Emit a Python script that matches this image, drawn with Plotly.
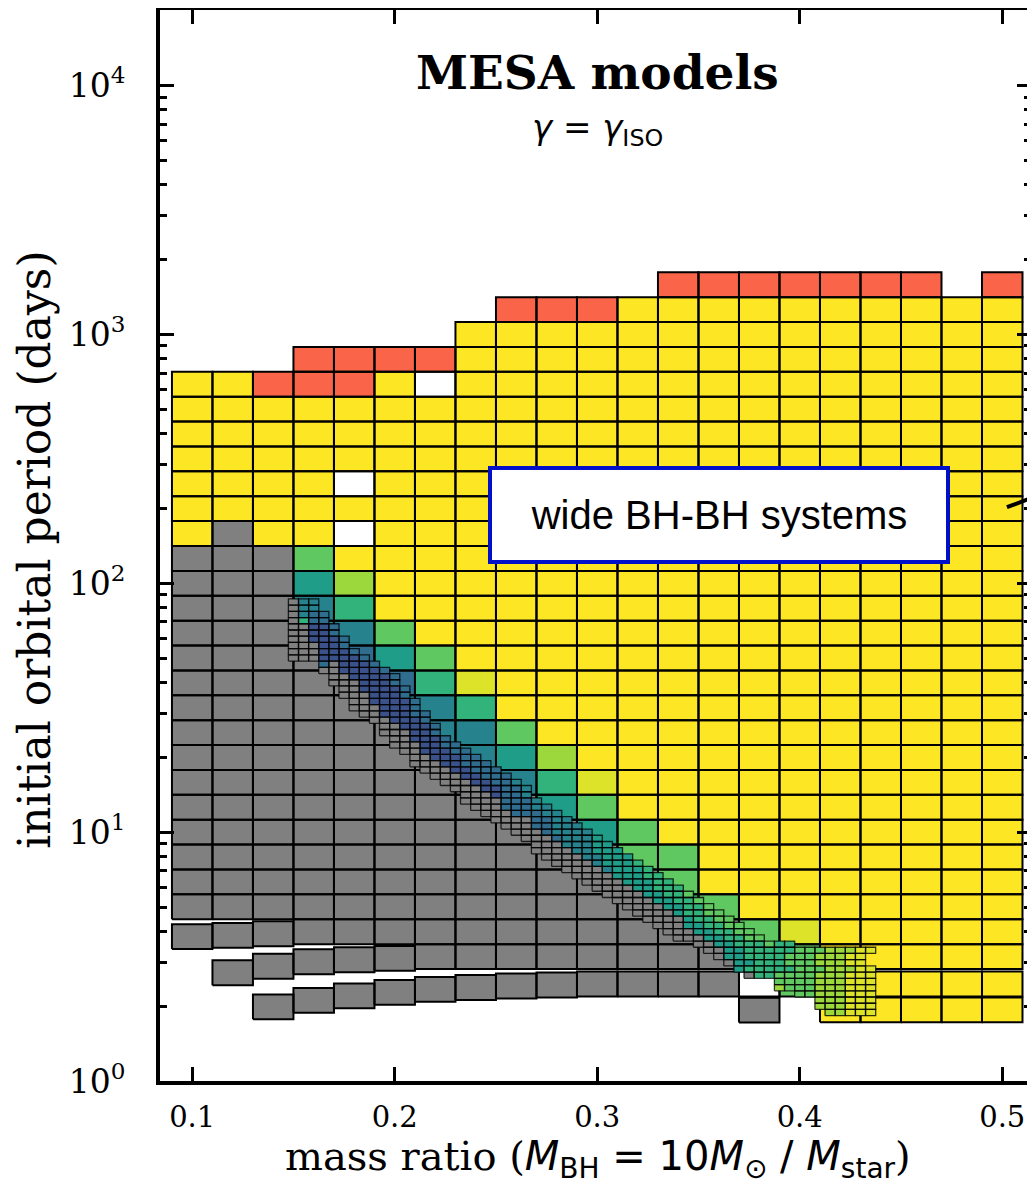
import plotly.graph_objects as go
from plotly.colors import sample_colorscale

# ---------------- data ----------------
Q_COLS = [0.10, 0.12, 0.14, 0.16, 0.18, 0.20, 0.22, 0.24, 0.26, 0.28, 0.30,
          0.32, 0.34, 0.36, 0.38, 0.40, 0.42, 0.44, 0.46, 0.48, 0.50]
LOGP_ROWS = [3.2, 3.1, 3.0, 2.9, 2.8, 2.7, 2.6, 2.5, 2.4, 2.3, 2.2, 2.1, 2.0, 1.9,
             1.8, 1.7, 1.6, 1.5, 1.4, 1.3, 1.2, 1.1, 1.0, 0.9, 0.8, 0.7, 0.6, 0.5]
# state per (row, column): R=red, Y=yellow(top of colour scale), K=grey, W=white,
# digit d = viridis value (d+0.5)/10, '.' = no model
COARSE_STATES = [
    "............RRRRRRR.R",
    "........RRRYYYYYYYYYY",
    ".......YYYYYYYYYYYYYY",
    "...RRRRYYYYYYYYYYYYYY",
    "YYRRRYWYYYYYYYYYYYYYY",
    "YYYYYYYYYYYYYYYYYYYYY",
    "YYYYYYYYYYYYYYYYYYYYY",
    "YYYYYYYYYYYYYYYYYYYYY",
    "YYYYWYYYYYYYYYYYYYYYY",
    "YYYYYYYYYYYYYYYYYYYYY",
    "YKYYWYYYYYYYYYYYYYYYY",
    "KKK7YYYYYYYYYYYYYYYYY",
    "KKK58YYYYYYYYYYYYYYYY",
    "KKK46YYYYYYYYYYYYYYYY",
    "KKK447YYYYYYYYYYYYYYY",
    "KKKK357YYYYYYYYYYYYYY",
    "KKKKK369YYYYYYYYYYYYY",
    "KKKKK446YYYYYYYYYYYYY",
    "KKKKKK447YYYYYYYYYYYY",
    "KKKKKKK458YYYYYYYYYYY",
    "KKKKKKKK469YYYYYYYYYY",
    "KKKKKKKKK57YYYYYYYYYY",
    "KKKKKKKKKK57YYYYYYYYY",
    "KKKKKKKKKKK77YYYYYYYY",
    "KKKKKKKKKKKK7YYYYYYYY",
    "KKKKKKKKKKKK67YYYYYYY",
    "...KKKKKKKKKKK79YYYYY",
    "......KKKKKKKK77YYYYY",
]
# shortest-period models (off the regular grid)
EXTRA_Q = [0.10, 0.12, 0.12, 0.14, 0.14, 0.14, 0.16, 0.16, 0.18, 0.18, 0.20, 0.20,
           0.22, 0.24, 0.26, 0.28, 0.30, 0.32, 0.34, 0.36, 0.38, 0.38, 0.40,
           0.42, 0.44, 0.46, 0.48, 0.50, 0.42, 0.44, 0.46, 0.48, 0.50]
EXTRA_LOGP = [0.58, 0.585, 0.435, 0.592, 0.461, 0.298, 0.479, 0.324, 0.487, 0.342, 0.493, 0.356,
              0.368, 0.376, 0.382, 0.386, 0.39, 0.39, 0.39, 0.39, 0.39, 0.285, 0.39,
              0.39, 0.39, 0.39, 0.39, 0.39, 0.286, 0.286, 0.286, 0.286, 0.286]
EXTRA_STATE = "KKKKKKKKKKKKKKKKKKKKWK7YYYYYYYYYY"

# refined grid (q step 0.005, log P step 0.025)
FINE_Q0 = 0.15
FINE_DQ = 0.005
FINE_LOGP0 = 1.925
FINE_DLOGP = 0.025
FINE_START = [0, 0, 0, 0, 0, 0, 0, 0, 0, 0,
              3, 3, 4, 4, 5, 5, 6, 6, 7, 8,
              9, 9, 10, 10, 11, 12, 12, 13, 14, 15,
              16, 17, 17, 18, 19, 20, 21, 22, 23, 24,
              24, 25, 26, 27, 28, 29, 30, 31, 32, 33,
              34, 35, 36, 37, 38, 40, 41, 42, 43, 44,
              45, 48, 48, 50, 52, 52, 53]
FINE_STATES = [
    "K44", "K44", "K433", "K633", "KK223", "KK223", "KK2223", "KKK223", "KKK2223", "KKK22223",
    "3K2223", "KK22223", "KK22223", "KKK2223", "KK22223", "KKK2223", "KK22223", "KKK2223", "KK22233", "KK2223",
    "KK2223", "KKK223", "KK2223", "KKK2233", "KK22233", "KK22233", "KKK22333", "KKK22333", "KKK22333", "KKK22334",
    "KKK22334", "KKK2334", "KKKK3334", "KKK33344", "KKK33344", "KKKK3344", "KKK33444", "KKK34444", "KKK34445", "KKK44455",
    "KKKK44555", "KKKK44555", "KKKK45556", "KKKK45556", "KKKK55566", "KKKK55566", "KKKK55666", "KKKK55667", "KKKK55667", "KKKK55667",
    "KKKK56677", "KKKK56677", "KKK556677", "KKK556677", "KKK556677", "KK55666766",
    "KK556666677788899", "K55666677788899", "K5566677788899", "56666677788899",
    "K667777888999", "7777888999", "8777888999", "77888999", "888999", "888999", "88999",
]

ARROW_Q = [0.5023, 0.5175]
ARROW_LOGP = [2.306, 2.352]

# ---------------- helpers ----------------
RED = "#fa6448"
YEL = "#fde725"
GREY = "#808080"


def color_of(ch):
    if ch == "R":
        return RED
    if ch == "Y":
        return YEL
    if ch == "K":
        return GREY
    if ch == "W":
        return "#ffffff"
    return sample_colorscale("Viridis", [(int(ch) + 0.5) / 10.0])[0]


def add_cell(store, key, q, lp, hq, hl):
    xs, ys = store.setdefault(key, ([], []))
    x0, x1 = q - hq, q + hq
    y0, y1 = 10 ** (lp - hl), 10 ** (lp + hl)
    xs.extend([x0, x1, x1, x0, x0, None])
    ys.extend([y0, y0, y1, y1, y0, None])


coarse = {}
for lp, row in zip(LOGP_ROWS, COARSE_STATES):
    for q, ch in zip(Q_COLS, row):
        if ch != ".":
            add_cell(coarse, ch, q, lp, 0.01, 0.05)
for q, lp, ch in zip(EXTRA_Q, EXTRA_LOGP, EXTRA_STATE):
    add_cell(coarse, ch, q, lp, 0.01, 0.05)

fine = {}
for j, (start, row) in enumerate(zip(FINE_START, FINE_STATES)):
    lp = FINE_LOGP0 - j * FINE_DLOGP
    for k, ch in enumerate(row):
        if ch != " ":
            q = FINE_Q0 + (start + k) * FINE_DQ
            add_cell(fine, ch, q, lp, FINE_DQ / 2, FINE_DLOGP / 2)

fig = go.Figure()


def add_layer(store, lw, lc):
    allx, ally = [], []
    for ch, (xs, ys) in store.items():
        fig.add_trace(go.Scatter(x=xs, y=ys, mode="none", fill="toself",
                                 fillcolor=color_of(ch), hoverinfo="skip",
                                 showlegend=False))
        allx.extend(xs)
        ally.extend(ys)
    fig.add_trace(go.Scatter(x=allx, y=ally, mode="lines",
                             line=dict(color=lc, width=lw), hoverinfo="skip",
                             showlegend=False, connectgaps=False))


add_layer(coarse, 2.0, "black")
add_layer(fine, 1.3, "rgba(0,0,0,0.78)")

fig.add_trace(go.Scatter(x=ARROW_Q, y=[10 ** v for v in ARROW_LOGP], mode="lines",
                         line=dict(color="black", width=4), cliponaxis=False,
                         showlegend=False, hoverinfo="skip"))

SERIF = "DejaVu Serif"
SANS = "DejaVu Sans"

fig.update_layout(
    width=1035, height=1184,
    margin=dict(l=152, r=12, t=2, b=111),
    paper_bgcolor="white", plot_bgcolor="white",
    showlegend=False,
    xaxis=dict(range=[0.0841, 0.5142], showgrid=False, zeroline=False, automargin=False,
               showline=True, linewidth=4, linecolor="black", mirror="ticks",
               ticks="inside", ticklen=14, tickwidth=3, tickcolor="black",
               tickmode="array", tickvals=[0.1, 0.2, 0.3, 0.4, 0.5],
               ticktext=["0.1", "0.2", "0.3", "0.4", "0.5"],
               tickfont=dict(family=SERIF, size=29, color="black"),
               ticklabelstandoff=7),
    yaxis=dict(type="log", range=[0, 4.304], showgrid=False, zeroline=False, automargin=False,
               showline=True, linewidth=4, linecolor="black", mirror="ticks",
               ticks="inside", ticklen=14, tickwidth=3, tickcolor="black",
               tickmode="array", tickvals=[1, 10, 100, 1000, 10000],
               ticktext=["10<sup>0</sup>", "10<sup>1</sup>", "10<sup>2</sup>",
                         "10<sup>3</sup>", "10<sup>4</sup>"],
               tickfont=dict(family=SERIF, size=33, color="black"),
               ticklabelstandoff=24,
               minor=dict(ticks="inside", ticklen=7, tickwidth=2.5, tickcolor="black",
                          tickmode="array",
                          tickvals=[m * 10 ** e for e in range(0, 5) for m in range(2, 10)])),
)

fig.add_annotation(x=0.502, y=0.942, xref="paper", yref="paper", showarrow=False,
                   xanchor="center", yanchor="middle",
                   text="<b>MESA models</b>", font=dict(family=SERIF, size=47, color="black"))
fig.add_annotation(x=0.502, y=0.888, xref="paper", yref="paper", showarrow=False,
                   xanchor="center", yanchor="middle",
                   text="<i>γ</i> = <i>γ</i><sub>ISO</sub>",
                   font=dict(family=SANS, size=34, color="black"))
fig.add_annotation(x=0.3601, y=2.274, xref="x", yref="y", showarrow=False,
                   xanchor="center", yanchor="middle",
                   text="wide BH-BH systems", width=454, height=90,
                   bgcolor="white", bordercolor="#0010c8", borderwidth=4, borderpad=0,
                   font=dict(family="Liberation Sans", size=40, color="black"))
fig.add_annotation(x=-0.1435, y=0.496, xref="paper", yref="paper", showarrow=False,
                   xanchor="center", yanchor="middle",
                   textangle=-90, text="initial orbital period (days)",
                   font=dict(family=SERIF, size=44, color="black"))
fig.add_annotation(x=0.503, y=-0.0728, xref="paper", yref="paper", showarrow=False,
                   xanchor="center", yanchor="middle",
                   text="mass ratio (<span style='font-family:DejaVu Sans'><i>M</i><sub>BH</sub> = 10<i>M</i><sub>⊙</sub> / <i>M</i><sub>star</sub></span>)",
                   font=dict(family=SERIF, size=40, color="black"))

fig.write_html("out.html")
